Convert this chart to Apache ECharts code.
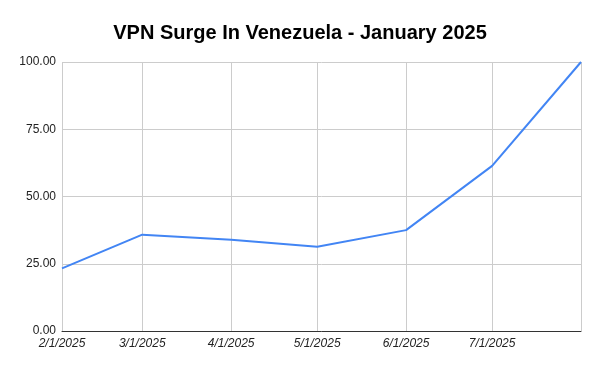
<!DOCTYPE html>
<html>
<head>
<meta charset="utf-8">
<script src="https://cdn.jsdelivr.net/npm/echarts@6/dist/echarts.min.js"></script>
<style>html,body{margin:0;padding:0;background:#fff}#c{width:600px;height:371px}</style>
</head>
<body>
<div id="c"></div>
<script>
const titleText = 'VPN Surge In Venezuela - January 2025';
const dates = ['2025-02-01','2025-03-01','2025-04-01','2025-05-01','2025-06-01','2025-07-01','2025-08-01'];
const values = [23.3, 35.8, 33.9, 31.3, 37.5, 61.4, 100];
const yTicks = [0, 25, 50, 75, 100];

const chart = echarts.init(document.getElementById('c'), null, {renderer:'canvas'});
chart.setOption({
  backgroundColor:'#fff',
  animation:false,
  title:{text:titleText,left:'center',top:18,textStyle:{fontFamily:'Liberation Sans, Arial, sans-serif',fontSize:20,fontWeight:'bold',color:'#000'}},
  grid:{left:62,right:19,top:62,bottom:40,containLabel:false},
  xAxis:{
    type:'time',
    min:dates[0], max:dates[dates.length-1],
    splitNumber:6,
    maxInterval:31*86400000,
    minInterval:28*86400000,
    axisLine:{show:true,lineStyle:{color:'#333',width:1}},
    axisTick:{show:false},
    splitLine:{show:true,lineStyle:{color:'#ccc',width:1}},
    axisLabel:{
      fontFamily:'Liberation Sans, Arial, sans-serif',fontSize:12,fontStyle:'italic',color:'#222',margin:7,
      showMaxLabel:true, hideOverlap:false,
      formatter:function(v){const d=new Date(v); if(d.getTime()>=new Date(dates[dates.length-1]).getTime()-86400000) return ''; return (d.getMonth()+1)+'/'+d.getDate()+'/'+d.getFullYear();}
    }
  },
  yAxis:{
    type:'value',min:yTicks[0],max:yTicks[yTicks.length-1],interval:25,
    axisLine:{show:false},axisTick:{show:false},
    splitLine:{show:true,lineStyle:{color:'#ccc',width:1}},
    axisLabel:{fontFamily:'Liberation Sans, Arial, sans-serif',fontSize:12,color:'#222',margin:6,formatter:v=>v.toFixed(2)}
  },
  series:[{
    type:'line',
    data:dates.map((d,i)=>[d,values[i]]),
    showSymbol:false,symbol:'none',
    lineStyle:{color:'#4285F4',width:2},
    itemStyle:{color:'#4285F4'}
  }]
});
</script>
</body>
</html>
